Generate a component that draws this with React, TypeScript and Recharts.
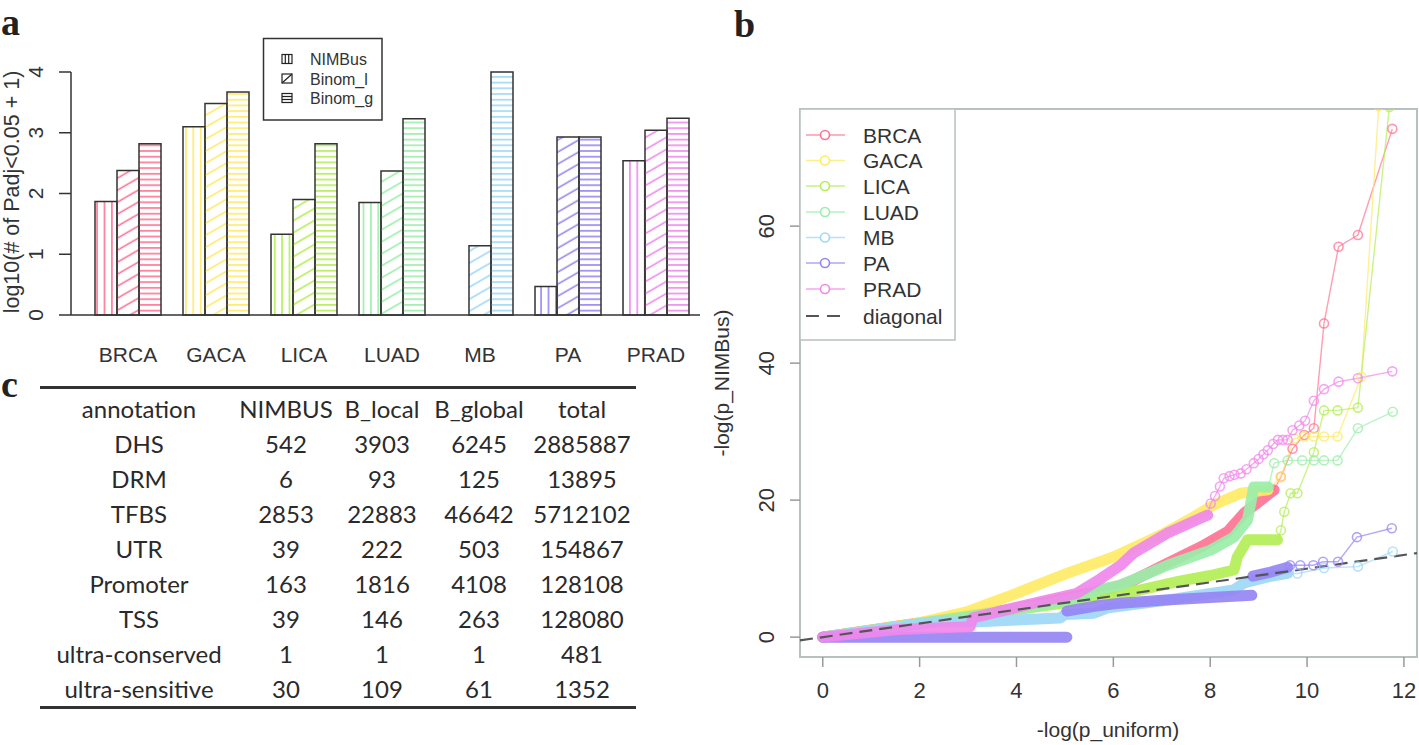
import React from "react";
import { BarChart, Bar, Cell, XAxis, YAxis, LineChart, Line, ReferenceLine, ReferenceArea } from "recharts";

const SANS = "'Liberation Sans', Arial, Helvetica, sans-serif";
const SERIF = "'Liberation Serif', 'Times New Roman', serif";

// ---------- panel a: bar chart ----------
const categories = ["BRCA", "GACA", "LICA", "LUAD", "MB", "PA", "PRAD"];
const nimbusVals = [1.87, 3.1, 1.33, 1.85, 0, 0.47, 2.54];
const binomLVals = [2.38, 3.48, 1.9, 2.37, 1.14, 2.93, 3.04];
const binomGVals = [2.82, 3.67, 2.82, 3.23, 4.0, 2.93, 3.24];
const yTicksA = [0, 1, 2, 3, 4];
const catColors = ["#ff7393", "#ffea66", "#b3ee55", "#9aeea9", "#9ed8f6", "#9686f4", "#f088ec"];

const barSeries = [
  { key: "nimbus", name: "NIMBus", hatch: "v" },
  { key: "binomL", name: "Binom_l", hatch: "d" },
  { key: "binomG", name: "Binom_g", hatch: "h" },
];

const barData = categories.map((cat, i) => ({
  cat,
  nimbus: nimbusVals[i],
  binomL: binomLVals[i],
  binomG: binomGVals[i],
}));

// ---------- panel c: table ----------
const tableHeader = ["annotation", "NIMBUS", "B_local", "B_global", "total"];
const annotations = ["DHS", "DRM", "TFBS", "UTR", "Promoter", "TSS", "ultra-conserved", "ultra-sensitive"];
const nimbusCounts = [542, 6, 2853, 39, 163, 39, 1, 30];
const bLocalCounts = [3903, 93, 22883, 222, 1816, 146, 1, 109];
const bGlobalCounts = [6245, 125, 46642, 503, 4108, 263, 1, 61];
const totalCounts = [2885887, 13895, 5712102, 154867, 128108, 128080, 481, 1352];

// ---------- panel b: QQ plot ----------
type P = [number, number];
const xTicksB = [0, 2, 4, 6, 8, 10, 12];
const yTicksB = [0, 20, 40, 60];
const xDomainB: [number, number] = [-0.47, 12.27];
const yDomainB: [number, number] = [-2.9, 77.1];
const diagonal: P[] = [[-0.47, -0.47], [12.27, 12.27]];

const brcaDense: P[] = [[0, 0], [4, 4.2], [6, 7.2], [6.42, 8.3], [7.12, 10.8], [7.81, 13.2], [8.36, 15.4], [8.7, 18.1], [9.05, 20], [9.32, 21.5]];
const brcaTail: P[] = [[9.46, 23.4], [9.7, 27.5], [9.94, 29.5], [10.14, 30.5], [10.35, 45.8], [10.65, 57], [11.05, 58.7], [11.76, 74.2]];

const gacaDense: P[] = [[0, 0], [1, 1], [1.94, 2.0], [2.97, 3.7], [4.0, 6.4], [5.04, 9.3], [6.0, 11.7], [6.98, 14.9], [7.6, 17.3], [8.07, 19.3], [8.63, 21], [9.19, 21.5]];
const gacaTail: P[] = [[9.46, 23.4], [9.73, 29.0], [9.94, 29.3], [10.14, 29.3], [10.35, 29.3], [10.63, 29.3], [11.12, 38], [11.48, 77.5]];

const licaDense: P[] = [[0, 0], [3, 3], [5, 5], [6.5, 6.8], [7.32, 8.1], [8.0, 9.0], [8.49, 9.8], [8.56, 11.7], [8.77, 14.2], [9.39, 14.2]];
const licaTail: P[] = [[9.46, 15.6], [9.53, 18.3], [9.66, 21], [9.8, 21], [10.14, 27], [10.35, 33.1], [10.63, 33.1], [11.05, 33.5], [11.7, 77.4]];

const luadDense: P[] = [[0, 0], [3, 3], [4.5, 4.6], [5.38, 5.9], [5.73, 7.0], [6.15, 7.6], [7.12, 10.5], [8.01, 12.7], [8.49, 14.6], [8.77, 17.1], [8.9, 21.9], [9.2, 21.9]];
const luadTail: P[] = [[9.32, 25.4], [9.6, 25.8], [9.9, 25.8], [10.14, 25.8], [10.35, 25.8], [10.63, 25.8], [11.05, 30.5], [11.77, 32.9]];

const mbDense: P[] = [[0, 0], [2.3, 2.2], [3.1, 2.2], [4.0, 2.5], [4.9, 2.8], [5.0, 3.3], [5.6, 3.5], [5.9, 4.3], [7.0, 5.3], [8.49, 6.9], [8.7, 7.9], [9.19, 8.8], [9.6, 9.3]];
const mbTail: P[] = [[9.8, 9.3], [10.35, 10.1], [11.05, 10.3], [11.77, 12.5]];

const paDense1: P[] = [[0, 0], [5.04, 0]];
const paDense2: P[] = [[5.04, 3.8], [5.6, 4.5], [6.15, 4.96], [7.0, 5.4], [8.0, 5.8], [8.86, 6.1]];
const paDense3: P[] = [[8.88, 8.9], [9.2, 9.4], [9.6, 10.2]];
const paTail: P[] = [[9.65, 10.5], [9.86, 10.5], [10.13, 10.5], [10.33, 11.0], [10.64, 11.0], [11.03, 14.6], [11.75, 15.9]];

const pradDense: P[] = [[0, 0], [1.53, 1.1], [3.04, 1.5], [3.1, 2.8], [4.35, 4.95], [5.25, 6.4], [5.73, 8.5], [6.15, 10.5], [6.42, 12.3], [7.12, 15.2], [7.81, 17.4], [7.95, 17.8]];
const pradTail: P[] = [[8.01, 19.5], [8.1, 20.6], [8.2, 22], [8.28, 23.2], [8.4, 23.5], [8.5, 23.7], [8.63, 23.9], [8.75, 24.5], [8.9, 25.4], [9.0, 26], [9.1, 26.7], [9.19, 27.3], [9.3, 28.2], [9.4, 28.8], [9.5, 28.8], [9.6, 28.8], [9.7, 30.2], [9.84, 30.9], [9.96, 31.6], [10.14, 34.5], [10.35, 36.2], [10.65, 37.3], [11.05, 37.8], [11.76, 38.8]];

const qqSeries = [
  { name: "BRCA", color: catColors[0], bands: [brcaDense], tail: brcaTail },
  { name: "GACA", color: catColors[1], bands: [gacaDense], tail: gacaTail },
  { name: "LICA", color: catColors[2], bands: [licaDense], tail: licaTail },
  { name: "LUAD", color: catColors[3], bands: [luadDense], tail: luadTail },
  { name: "MB", color: catColors[4], bands: [mbDense], tail: mbTail },
  { name: "PA", color: catColors[5], bands: [paDense1, paDense2, paDense3], tail: paTail },
  { name: "PRAD", color: catColors[6], bands: [pradDense], tail: pradTail },
];

const toXY = (a: P[]) => a.map(([x, y]) => ({ x, y }));

// ---------- renderers ----------
const YTickA = ({ x, y, payload }: any) => {
  const bx = x - 16;
  return (
    <text x={bx} y={y} transform={`rotate(-90 ${bx} ${y})`} textAnchor="middle" fontSize={21} fill="#333" fontFamily={SANS}>
      {payload.value}
    </text>
  );
};

const XTickA = ({ x, y, payload }: any) => (
  <text x={x} y={y + 47} textAnchor="middle" fontSize={21} fill="#333" fontFamily={SANS}>
    {payload.value}
  </text>
);

const XTickB = ({ x, y, payload }: any) => (
  <text x={x} y={y + 29} textAnchor="middle" fontSize={22} fill="#333" fontFamily={SANS}>
    {payload.value}
  </text>
);

const YTickB = ({ x, y, payload }: any) => {
  const bx = x - 14;
  return (
    <text x={bx} y={y} transform={`rotate(-90 ${bx} ${y})`} textAnchor="middle" fontSize={22} fill="#333" fontFamily={SANS}>
      {payload.value}
    </text>
  );
};

const tailDot = (color: string) => (p: any) => {
  if (p.index === 0) return <g key={`e${p.index}`} />;
  return (
    <circle key={`c${p.index}`} cx={p.cx} cy={p.cy} r={4.5} fill="none" stroke={color} strokeWidth={1.6} strokeOpacity={0.75} />
  );
};

function Patterns() {
  return (
    <svg width={0} height={0} style={{ position: "absolute" }}>
      <defs>
        {catColors.map((c, i) => (
          <React.Fragment key={i}>
            <pattern id={`pat-v-${i}`} patternUnits="userSpaceOnUse" width={7.4} height={8}>
              <line x1={0.9} y1={0} x2={0.9} y2={8} stroke={c} strokeWidth={1.6} />
            </pattern>
            <pattern id={`pat-d-${i}`} patternUnits="userSpaceOnUse" width={10} height={10.4} patternTransform="rotate(-30)">
              <line x1={0} y1={5} x2={10} y2={5} stroke={c} strokeWidth={1.6} />
            </pattern>
            <pattern id={`pat-h-${i}`} patternUnits="userSpaceOnUse" width={8} height={5.7}>
              <line x1={0} y1={2.8} x2={8} y2={2.8} stroke={c} strokeWidth={1.6} />
            </pattern>
          </React.Fragment>
        ))}
      </defs>
    </svg>
  );
}

function Overlay() {
  const legA = [59, 78.5, 98];
  const legB = [135, 160.5, 186, 212, 237.5, 263, 289];
  return (
    <svg width={1419} height={745} style={{ position: "absolute", left: 0, top: 0, pointerEvents: "none" }}>
      {/* panel letters */}
      <text x={1} y={35} fontSize={38} fontWeight="bold" fontFamily={SERIF} fill="#222">a</text>
      <text x={734} y={37} fontSize={38} fontWeight="bold" fontFamily={SERIF} fill="#222">b</text>
      <text x={1} y={397} fontSize={38} fontWeight="bold" fontFamily={SERIF} fill="#222">c</text>

      {/* panel a y title */}
      <text x={19} y={192} transform="rotate(-90 19 192)" textAnchor="middle" fontSize={21.5} fill="#333" fontFamily={SANS}>
        log10(# of Padj&lt;0.05 + 1)
      </text>

      {/* panel a legend */}
      <rect x={263.5} y={38.5} width={118.5} height={81.5} fill="#fff" stroke="#333" strokeWidth={1.5} />
      {barSeries.map((s, i) => {
        const cy = legA[i];
        const x0 = 282, y0 = cy - 4.5, w = 10, h = 9;
        return (
          <g key={s.key}>
            <rect x={x0} y={y0} width={w} height={h} fill="none" stroke="#222" strokeWidth={1.2} />
            {s.hatch === "v" && [3.3, 6.7].map((d) => <line key={d} x1={x0 + d} y1={y0} x2={x0 + d} y2={y0 + h} stroke="#222" strokeWidth={1.2} />)}
            {s.hatch === "d" && <line x1={x0} y1={y0 + h} x2={x0 + w} y2={y0} stroke="#222" strokeWidth={1.2} />}
            {s.hatch === "h" && [3, 6].map((d) => <line key={d} x1={x0} y1={y0 + d} x2={x0 + w} y2={y0 + d} stroke="#222" strokeWidth={1.2} />)}
            <text x={310} y={cy + 6} fontSize={16} fill="#333" fontFamily={SANS}>{s.name}</text>
          </g>
        );
      })}

      {/* panel b axis titles */}
      <text x={729} y={383} transform="rotate(-90 729 383)" textAnchor="middle" fontSize={21} fill="#333" fontFamily={SANS}>
        -log(p_NIMBus)
      </text>
      <text x={1108} y={737} textAnchor="middle" fontSize={21} fill="#333" fontFamily={SANS}>
        -log(p_uniform)
      </text>

      {/* panel b legend */}
      <rect x={800} y={109} width={155} height={231} fill="#fff" stroke="#b8c0c0" strokeWidth={1.5} />
      {qqSeries.map((s, i) => (
        <g key={s.name}>
          <line x1={806} y1={legB[i]} x2={845} y2={legB[i]} stroke={s.color} strokeWidth={1.5} strokeOpacity={0.75} />
          <circle cx={825} cy={legB[i]} r={4.5} fill="#fff" stroke={s.color} strokeWidth={1.6} />
          <text x={863} y={legB[i] + 7.5} fontSize={21} fill="#333" fontFamily={SANS}>{s.name}</text>
        </g>
      ))}
      <line x1={806} y1={316} x2={845} y2={316} stroke="#555" strokeWidth={2} strokeDasharray="13 8" />
      <text x={863} y={323.5} fontSize={21} fill="#333" fontFamily={SANS}>diagonal</text>
    </svg>
  );
}

function Table() {
  const widths = [198, 96, 96, 98, 108];
  const rows = annotations.map((a, i) => [a, nimbusCounts[i], bLocalCounts[i], bGlobalCounts[i], totalCounts[i]]);
  const row = (cells: (string | number)[], k: number) => (
    <div key={k} style={{ display: "flex", height: 35, alignItems: "center" }}>
      {cells.map((c, j) => (
        <div key={j} style={{ width: widths[j], textAlign: "center", whiteSpace: "nowrap" }}>{c}</div>
      ))}
    </div>
  );
  return (
    <div
      style={{
        position: "absolute",
        left: 40,
        top: 386,
        width: 596,
        borderTop: "3px solid #333",
        borderBottom: "3px solid #333",
        paddingTop: 2,
        fontFamily: "Lato, 'Open Sans', sans-serif",
        fontSize: 24,
        color: "#2a2a2a",
        lineHeight: "35px",
      }}
    >
      {row(tableHeader, -1)}
      {rows.map((r, i) => row(r, i))}
    </div>
  );
}

export default function App() {
  return (
    <div style={{ position: "absolute", left: 0, top: 0, width: 1419, height: 745, background: "#fff", overflow: "hidden" }}>
      <Patterns />
      <div style={{ position: "absolute", left: 0, top: 0 }}>
        <BarChart width={700} height={370} data={barData} margin={{ top: 72, right: 0, left: 0, bottom: 0 }} barGap={0} barSize={22}>
          <XAxis
            dataKey="cat"
            height={55}
            padding={{ left: 13, right: 0 }}
            tickLine={false}
            tickSize={0}
            tickMargin={0}
            axisLine={{ stroke: "#333", strokeWidth: 1.5 }}
            tick={<XTickA />}
            interval={0}
          />
          <YAxis
            width={71}
            domain={[0, 4]}
            ticks={yTicksA}
            tickSize={12}
            tickMargin={0}
            axisLine={{ stroke: "#333", strokeWidth: 1.5 }}
            tickLine={{ stroke: "#333", strokeWidth: 1.5 }}
            tick={<YTickA />}
          />
          {barSeries.map((s) => (
            <Bar key={s.key} dataKey={s.key} name={s.name} stroke="#333" strokeWidth={1.5} isAnimationActive={false}>
              {categories.map((c, i) => (
                <Cell key={c} fill={`url(#pat-${s.hatch}-${i})`} />
              ))}
            </Bar>
          ))}
        </BarChart>
      </div>

      <Table />

      <div style={{ position: "absolute", left: 700, top: 0 }}>
        <LineChart width={719} height={745} margin={{ top: 109, right: 2, left: 0, bottom: 0 }}>
          <XAxis
            type="number"
            dataKey="x"
            domain={xDomainB}
            allowDataOverflow
            ticks={xTicksB}
            interval={0}
            height={88}
            axisLine={false}
            tickLine={{ stroke: "#999", strokeWidth: 1.5 }}
            tickSize={10}
            tickMargin={2}
            tick={<XTickB />}
          />
          <YAxis
            type="number"
            dataKey="y"
            domain={yDomainB}
            allowDataOverflow
            ticks={yTicksB}
            interval={0}
            width={100}
            axisLine={false}
            tickLine={{ stroke: "#999", strokeWidth: 1.5 }}
            tickSize={10}
            tickMargin={2}
            tick={<YTickB />}
          />
          <ReferenceArea x1={xDomainB[0]} x2={xDomainB[1]} y1={yDomainB[0]} y2={yDomainB[1]} fill="none" stroke="#b8c0c0" strokeWidth={2} />
          {qqSeries.map((s) => (
            <React.Fragment key={s.name}>
              {s.bands.map((b, bi) => (
                <Line
                  key={`${s.name}-b${bi}`}
                  data={toXY(b)}
                  dataKey="y"
                  type="linear"
                  stroke={s.color}
                  strokeWidth={11}
                  strokeLinecap="round"
                  strokeLinejoin="round"
                  strokeOpacity={0.92}
                  dot={false}
                  activeDot={false}
                  isAnimationActive={false}
                />
              ))}
              <Line
                key={`${s.name}-t`}
                data={toXY([s.bands[s.bands.length - 1][s.bands[s.bands.length - 1].length - 1], ...s.tail])}
                dataKey="y"
                type="linear"
                stroke={s.color}
                strokeWidth={1.4}
                strokeOpacity={0.7}
                dot={tailDot(s.color)}
                activeDot={false}
                isAnimationActive={false}
              />
            </React.Fragment>
          ))}
          <ReferenceLine
            segment={toXY(diagonal)}
            stroke="#555"
            strokeWidth={2.2}
            strokeDasharray="13 7"
            ifOverflow="visible"
          />
        </LineChart>
      </div>

      <Overlay />
    </div>
  );
}
